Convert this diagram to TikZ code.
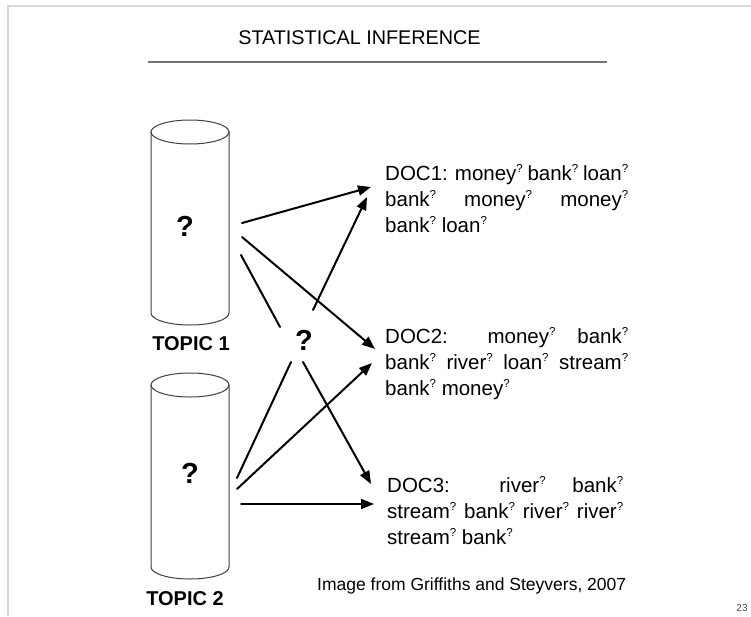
\documentclass[tikz,border=0pt]{standalone}
\usepackage{fontspec}
\setmainfont{Liberation Sans}
\usetikzlibrary{arrows.meta}

% small raised question mark after each word
\newcommand\qsup{\raisebox{7.5pt}{\fontsize{11.5}{11.5}\selectfont ?}}
% one justified line of a document's word list
\newcommand\docline[2]{\makebox[#1][s]{#2}}

\begin{document}
\begin{tikzpicture}[x=1pt,y=-1pt,
  frame/.style={draw=black!15, line width=1.5pt},
  cyl/.style={draw=black!75, line width=1pt},
  link/.style={line width=2pt, line cap=round},
  arr/.style={link, -{Triangle[length=13pt,width=10pt]}},
  qbig/.style={font=\fontsize{29}{29}\selectfont\bfseries, inner sep=0},
  topic/.style={font=\fontsize{20}{20}\selectfont\bfseries, inner sep=0, anchor=base},
  doc/.style={font=\fontsize{20.5}{26}\selectfont, inner sep=0, anchor=base west},
]
\useasboundingbox (0,0) rectangle (751,616);

% slide frame
\draw[frame] (8,616) -- (8,6) -- (751,6);

% title and rule
\node[font=\fontsize{19.8}{20}\selectfont, inner sep=0, anchor=base] (title) at (359.5,44) {STATISTICAL INFERENCE};
\draw[draw=black!55, line width=1.3pt] (148,62) -- (607,62);

% topic cylinders
\node[inner sep=0, minimum width=78pt, minimum height=205pt] (cyl1) at (190,222.5) {};
\draw[cyl] (151,132) -- (151,313) arc[start angle=180, end angle=0, x radius=39, y radius=12] -- (229,132);
\draw[cyl] (190,132) ellipse[x radius=39, y radius=12];
\node[qbig] (q1) at (185,226) {?};
\node[topic] (topic1) at (191,350.5) {TOPIC 1};

\node[inner sep=0, minimum width=78pt, minimum height=206pt] (cyl2) at (190,476) {};
\draw[cyl] (151,385) -- (151,567) arc[start angle=180, end angle=0, x radius=39, y radius=12] -- (229,385);
\draw[cyl] (190,385) ellipse[x radius=39, y radius=12];
\node[qbig] (q2) at (190,473) {?};
\node[topic] (topic2) at (185,605.5) {TOPIC 2};

% unknown mixture
\node[qbig] (qmid) at (304,340) {?};

% documents
\node[doc] (doc1) at (385,180) {\begin{tabular}[t]{@{}l@{}}
\docline{243pt}{DOC1: money\qsup{} bank\qsup{} loan\qsup}\\
\docline{243pt}{bank\qsup{} money\qsup{} money\qsup}\\
bank\qsup{} loan\qsup
\end{tabular}};
\node[doc] (doc2) at (385,343) {\begin{tabular}[t]{@{}l@{}}
\docline{243pt}{DOC2: money\qsup{} bank\qsup}\\
\docline{243pt}{bank\qsup{} river\qsup{} loan\qsup{} stream\qsup}\\
bank\qsup{} money\qsup
\end{tabular}};
\node[doc] (doc3) at (387,492) {\begin{tabular}[t]{@{}l@{}}
\docline{236pt}{DOC3: river\qsup{} bank\qsup}\\
\docline{236pt}{stream\qsup{} bank\qsup{} river\qsup{} river\qsup}\\
stream\qsup{} bank\qsup
\end{tabular}};

% connector end points
\coordinate (t1a) at (242,223);
\coordinate (t1b) at (242,237);
\coordinate (t1c) at (241,255);
\coordinate (t2a) at (237,478);
\coordinate (t2b) at (237,489);
\coordinate (t2c) at (241,504);
\coordinate (qin1) at (280,327);
\coordinate (qin2) at (291,362);
\coordinate (qout1) at (313,310);
\coordinate (qout3) at (303,362);
\coordinate (d1a) at (371,187);
\coordinate (d1b) at (367,197);
\coordinate (d2a) at (375,349);
\coordinate (d2b) at (372,363);
\coordinate (d3a) at (371,484);
\coordinate (d3b) at (374,504);

% connectors
\draw[arr] (t1a) -- (d1a);
\draw[arr] (t1b) -- (d2a);
\draw[link] (t1c) -- (qin1);
\draw[arr] (qout1) -- (d1b);
\draw[link] (t2a) -- (qin2);
\draw[arr] (qout3) -- (d3a);
\draw[arr] (t2b) -- (d2b);
\draw[arr] (t2c) -- (d3b);

% source and page number
\node[font=\fontsize{17.5}{18}\selectfont, inner sep=0, anchor=base west] (source) at (317,590) {Image from Griffiths and Steyvers, 2007};
\node[font=\fontsize{10}{10}\selectfont, text=black!70, inner sep=0] (page) at (742,608) {23};
\end{tikzpicture}
\end{document}
